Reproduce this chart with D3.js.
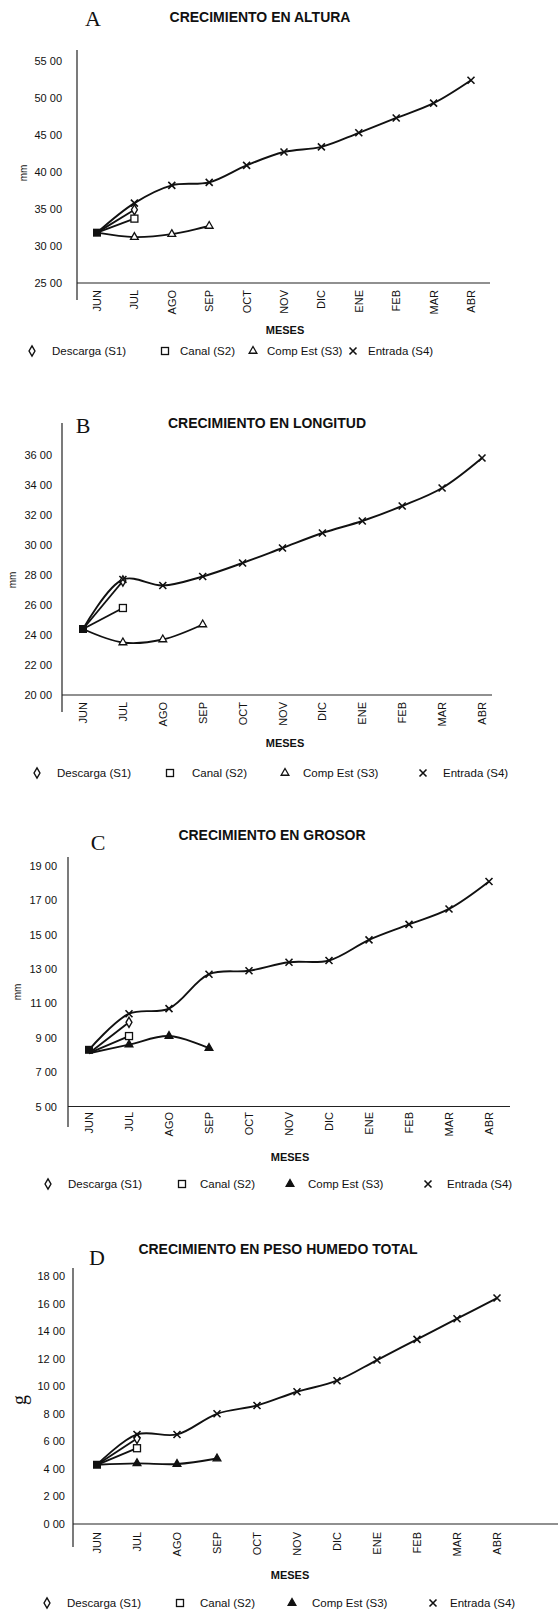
<!DOCTYPE html>
<html>
<head>
  <title>Crecimiento</title>
  <meta charset="utf-8">
  <script src="https://d3js.org/d3.v7.min.js"></script>
  <style>
    body { margin: 0; background: #fff; }
    svg text { font-family: "Liberation Sans", Arial, sans-serif; fill: #111; }
    .serif { font-family: "Liberation Serif", "Times New Roman", serif !important; }
    .line { fill: none; stroke: #111; stroke-width: 1.9px; }
    .axis { stroke: #222; stroke-width: 1.2px; }
  </style>
</head>
<body>
  <svg width="558" height="1610"></svg>
  <script>
    var months = ["JUN", "JUL", "AGO", "SEP", "OCT", "NOV", "DIC", "ENE", "FEB", "MAR", "ABR"];
    var seriesNames = ["Descarga (S1)", "Canal (S2)", "Comp Est (S3)", "Entrada (S4)"];

    // A - altura (mm)
    var alturaS1 = [31.8, 34.9];
    var alturaS2 = [31.8, 33.7];
    var alturaS3 = [31.8, 31.2, 31.6, 32.7];
    var alturaS4 = [31.8, 35.8, 38.2, 38.6, 40.9, 42.7, 43.4, 45.3, 47.3, 49.3, 52.4];
    var alturaTicks = [25, 30, 35, 40, 45, 50, 55];

    // B - longitud (mm)
    var longitudS1 = [24.4, 27.6];
    var longitudS2 = [24.4, 25.8];
    var longitudS3 = [24.4, 23.5, 23.7, 24.7];
    var longitudS4 = [24.4, 27.7, 27.3, 27.9, 28.8, 29.8, 30.8, 31.6, 32.6, 33.8, 35.8];
    var longitudTicks = [20, 22, 24, 26, 28, 30, 32, 34, 36];

    // C - grosor (mm)
    var grosorS1 = [8.1, 9.9];
    var grosorS2 = [8.1, 9.1];
    var grosorS3 = [8.1, 8.6, 9.1, 8.4];
    var grosorS4 = [8.3, 10.4, 10.7, 12.7, 12.9, 13.4, 13.5, 14.7, 15.6, 16.5, 18.1];
    var grosorTicks = [5, 7, 9, 11, 13, 15, 17, 19];

    // D - peso humedo total (g)
    var pesoS1 = [4.3, 6.2];
    var pesoS2 = [4.3, 5.5];
    var pesoS3 = [4.3, 4.4, 4.35, 4.75];
    var pesoS4 = [4.3, 6.5, 6.5, 8.0, 8.6, 9.6, 10.4, 11.9, 13.4, 14.9, 16.4];
    var pesoTicks = [0, 2, 4, 6, 8, 10, 12, 14, 16, 18];

    var panels = [
      { letter: "A", title: "CRECIMIENTO EN ALTURA", unit: "mm", series: [alturaS1, alturaS2, alturaS3, alturaS4], ticks: alturaTicks,
        x0: 97, x1: 471, yb: 283, yt: 61, ax: 77, axTop: 50, axBot: 300, xEnd: 490, lab: 62,
        titleX: 260, titleY: 22, letX: 93, letY: 26, unitX: 23, unitY: 173, monthY: 290, mesesX: 285, mesesY: 334, legY: 355,
        leg: [[32, 52], [165, 180], [253, 267], [353, 368]], filledTri: false },
      { letter: "B", title: "CRECIMIENTO EN LONGITUD", unit: "mm", series: [longitudS1, longitudS2, longitudS3, longitudS4], ticks: longitudTicks,
        x0: 83, x1: 482, yb: 695, yt: 455, ax: 62, axTop: 423, axBot: 712, xEnd: 492, lab: 52,
        titleX: 267, titleY: 428, letX: 83, letY: 433, unitX: 12, unitY: 580, monthY: 702, mesesX: 285, mesesY: 747, legY: 777,
        leg: [[37, 57], [170, 192], [285, 303], [423, 443]], filledTri: false },
      { letter: "C", title: "CRECIMIENTO EN GROSOR", unit: "mm", series: [grosorS1, grosorS2, grosorS3, grosorS4], ticks: grosorTicks,
        x0: 89, x1: 489, yb: 1106.5, yt: 866, ax: 68, axTop: 857, axBot: 1127, xEnd: 510, lab: 57,
        titleX: 272, titleY: 840, letX: 98, letY: 850, unitX: 17, unitY: 992, monthY: 1112, mesesX: 290, mesesY: 1161, legY: 1188,
        leg: [[48, 68], [182, 200], [290, 308], [428, 447]], filledTri: true },
      { letter: "D", title: "CRECIMIENTO EN PESO HUMEDO TOTAL", unit: "g", series: [pesoS1, pesoS2, pesoS3, pesoS4], ticks: pesoTicks,
        x0: 97, x1: 497, yb: 1524, yt: 1276, ax: 73, axTop: 1268, axBot: 1547, xEnd: 558, lab: 65,
        titleX: 278, titleY: 1254, letX: 97, letY: 1265, unitX: 22, unitY: 1400, monthY: 1532, mesesX: 290, mesesY: 1579, legY: 1607,
        leg: [[47, 67], [180, 200], [292, 312], [433, 450]], filledTri: true }
    ];

    var svg = d3.select("svg");
    var fmt = function (v) { return d3.format(".2f")(v).replace(".", " "); };

    function marker(g, kind, x, y, filled) {
      if (kind === 0) {
        g.append("path").attr("d", d3.symbol(d3.symbolDiamond, 30)())
          .attr("transform", "translate(" + x + "," + y + ")")
          .attr("fill", "#fff").attr("stroke", "#111").attr("stroke-width", 1.4);
      } else if (kind === 1) {
        g.append("rect").attr("x", x - 3.5).attr("y", y - 3.5).attr("width", 7).attr("height", 7)
          .attr("fill", "#fff").attr("stroke", "#111").attr("stroke-width", 1.3);
      } else if (kind === 2) {
        g.append("path").attr("d", d3.symbol(d3.symbolTriangle, 26)())
          .attr("transform", "translate(" + x + "," + y + ")")
          .attr("fill", filled ? "#111" : "#fff").attr("stroke", "#111").attr("stroke-width", 1.3);
      } else {
        g.append("path").attr("d", "M-3.5,-3.5L3.5,3.5M-3.5,3.5L3.5,-3.5")
          .attr("transform", "translate(" + x + "," + y + ")")
          .attr("stroke", "#111").attr("stroke-width", 1.6);
      }
    }

    panels.forEach(function (p) {
      var g = svg.append("g");
      var x = d3.scalePoint().domain(months).range([p.x0, p.x1]);
      var y = d3.scaleLinear().domain([p.ticks[0], p.ticks[p.ticks.length - 1]]).range([p.yb, p.yt]);

      // axes
      g.append("line").attr("class", "axis").attr("x1", p.ax).attr("x2", p.ax).attr("y1", p.axTop).attr("y2", p.axBot);
      g.append("line").attr("class", "axis").attr("x1", p.ax).attr("x2", p.xEnd).attr("y1", p.yb).attr("y2", p.yb);

      g.selectAll(".ytick").data(p.ticks).enter().append("text")
        .attr("x", p.lab).attr("y", function (d) { return y(d) + 4; })
        .attr("text-anchor", "end").style("font-size", "11px").text(fmt);

      g.selectAll(".month").data(months).enter().append("text")
        .attr("transform", function (d) { return "translate(" + (x(d) + 4) + "," + p.monthY + ") rotate(-90)"; })
        .attr("text-anchor", "end").style("font-size", "11px").text(function (d) { return d; });

      g.append("text").attr("x", p.mesesX).attr("y", p.mesesY).attr("text-anchor", "middle")
        .style("font-size", "11px").style("font-weight", "bold").text("MESES");

      g.append("text").attr("x", p.titleX).attr("y", p.titleY).attr("text-anchor", "middle")
        .style("font-size", "14px").style("font-weight", "bold").text(p.title);

      g.append("text").attr("class", "serif").attr("x", p.letX).attr("y", p.letY).attr("text-anchor", "middle")
        .style("font-size", "22px").text(p.letter);

      var unit = g.append("text").attr("transform", "translate(" + (p.unitX + 4) + "," + p.unitY + ") rotate(-90)")
        .attr("text-anchor", "middle").text(p.unit);
      if (p.unit === "g") unit.attr("class", "serif").style("font-size", "20px");
      else unit.style("font-size", "10px");

      // lines
      var line = d3.line().x(function (d, i) { return x(months[i]); }).y(function (d) { return y(d); })
        .curve(d3.curveCatmullRom.alpha(0.5));
      p.series.forEach(function (s) {
        g.append("path").datum(s).attr("class", "line").attr("d", line);
      });
      p.series.forEach(function (s, k) {
        s.forEach(function (v, i) {
          if (i === 0) return;
          marker(g, k, x(months[i]), y(v), p.filledTri);
        });
      });
      // common start point
      var s0 = p.series[3][0];
      g.append("rect").attr("x", x(months[0]) - 4).attr("y", y(s0) - 4).attr("width", 8).attr("height", 8).attr("fill", "#111");

      // legend
      seriesNames.forEach(function (name, k) {
        marker(g, k, p.leg[k][0], p.legY - 4, p.filledTri);
        g.append("text").attr("x", p.leg[k][1]).attr("y", p.legY).style("font-size", "11.5px").text(name);
      });
    });
  </script>
</body>
</html>
